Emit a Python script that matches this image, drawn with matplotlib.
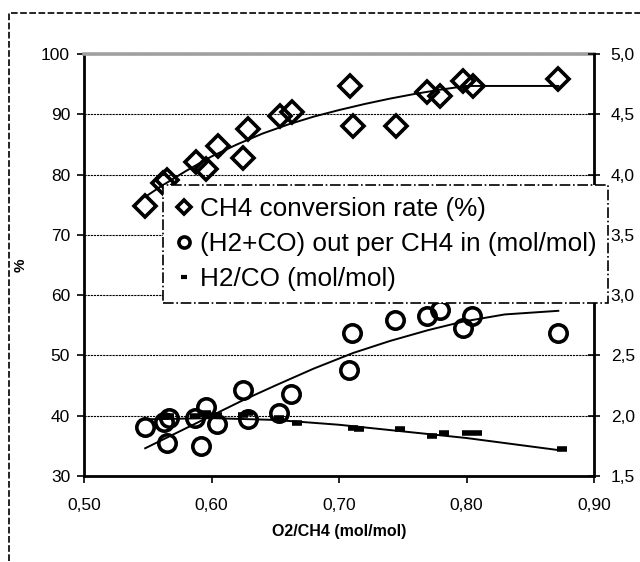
import matplotlib
matplotlib.use("Agg")
import matplotlib.pyplot as plt
from matplotlib.ticker import FuncFormatter
from matplotlib.patches import Rectangle

plt.rcParams['font.family'] = ['Liberation Sans', 'DejaVu Sans']

# ---------------- data ----------------
# CH4 conversion rate (%)  -> left axis
ch4_x = [0.548, 0.562, 0.565, 0.588, 0.596, 0.605, 0.625, 0.629, 0.654, 0.663,
         0.709, 0.711, 0.745, 0.769, 0.779, 0.797, 0.805, 0.872]
ch4_y = [74.8, 78.6, 79.1, 82.1, 80.9, 84.7, 82.7, 87.5, 89.7, 90.4,
         94.7, 88.1, 88.1, 93.7, 93.0, 95.6, 94.7, 95.8]
ch4_trend_x = [0.548, 0.56, 0.58, 0.60, 0.62, 0.64, 0.66, 0.68, 0.70, 0.72,
               0.74, 0.76, 0.78, 0.80, 0.872]
ch4_trend_y = [76.3, 78.0, 80.6, 83.0, 85.0, 86.8, 88.3, 89.6, 90.7, 91.7,
               92.6, 93.4, 94.1, 94.7, 94.7]

# (H2+CO) out per CH4 in (mol/mol) -> right axis
syn_x = [0.548, 0.563, 0.567, 0.565, 0.587, 0.596, 0.604, 0.592, 0.625, 0.629,
         0.653, 0.662, 0.708, 0.710, 0.744, 0.769, 0.779, 0.797, 0.804, 0.872]
syn_y = [1.91, 1.95, 1.98, 1.77, 1.98, 2.07, 1.93, 1.75, 2.21, 1.97,
         2.02, 2.18, 2.38, 2.69, 2.79, 2.83, 2.88, 2.73, 2.83, 2.69]
syn_trend_x = [0.548, 0.60, 0.625, 0.65, 0.68, 0.711, 0.74, 0.77, 0.797, 0.83, 0.872]
syn_trend_y = [1.73, 2.00, 2.13, 2.25, 2.39, 2.52, 2.62, 2.71, 2.78, 2.84, 2.87]

# H2/CO (mol/mol) -> right axis
h2co_x = [0.563, 0.567, 0.587, 0.596, 0.604, 0.625, 0.629, 0.653, 0.667, 0.711,
          0.716, 0.748, 0.773, 0.782, 0.800, 0.808, 0.875]
h2co_y = [1.99, 2.00, 2.00, 2.02, 2.01, 2.01, 2.02, 1.98, 1.94, 1.90,
          1.89, 1.89, 1.83, 1.86, 1.86, 1.86, 1.72]
h2co_trend_x = [0.547, 0.60, 0.65, 0.70, 0.75, 0.80, 0.872]
h2co_trend_y = [1.97, 1.98, 1.965, 1.925, 1.87, 1.815, 1.715]

x_ticks = [0.50, 0.60, 0.70, 0.80, 0.90]
left_ticks = [30, 40, 50, 60, 70, 80, 90, 100]
right_ticks = [1.5, 2.0, 2.5, 3.0, 3.5, 4.0, 4.5, 5.0]

labels = ["CH4 conversion rate (%)",
          "(H2+CO) out per CH4 in (mol/mol)",
          "H2/CO (mol/mol)"]

# ---------------- figure ----------------
W, H = 640, 562
fig = plt.figure(figsize=(W / 100, H / 100), dpi=100)
fig.patch.set_facecolor('white')

L, R, T, B = 84, 594, 54, 476
ax = fig.add_axes([L / W, 1 - B / H, (R - L) / W, (B - T) / H])
ax2 = ax.twinx()

# outer dashed frame (only left and top visible)
fig.patches.append(Rectangle((9 / W, -0.2), 1.5, 1.2 - 13 / H, transform=fig.transFigure,
                             fill=False, edgecolor='black', lw=1.2,
                             linestyle=(0, (4, 1.5)), clip_on=False))

ax.set_xlim(0.50, 0.90)
ax.set_ylim(30, 100)
ax2.set_ylim(1.5, 5.0)
ax.set_xticks(x_ticks)
ax.set_yticks(left_ticks)
ax2.set_yticks(right_ticks)
ax.xaxis.set_major_formatter(FuncFormatter(lambda v, p: f"{v:.2f}".replace('.', ',')))
ax.yaxis.set_major_formatter(FuncFormatter(lambda v, p: f"{v:.0f}"))
ax2.yaxis.set_major_formatter(FuncFormatter(lambda v, p: f"{v:.1f}".replace('.', ',')))

ax.set_axisbelow(True)
ax.yaxis.grid(True, color='black', linestyle=(0, (2, 0.8)), lw=0.8)

for s in ['left', 'bottom']:
    ax.spines[s].set_color('black')
    ax.spines[s].set_linewidth(2.0)
ax.spines['top'].set_color('#a0a0a0')
ax.spines['top'].set_linewidth(2.6)
ax.spines['right'].set_visible(False)
for s in ['left', 'bottom', 'top']:
    ax2.spines[s].set_visible(False)
ax2.spines['right'].set_color('black')
ax2.spines['right'].set_linewidth(2.0)

ax.tick_params(axis='y', direction='out', length=5, width=1.2, pad=5, labelsize=12.5)
ax.tick_params(axis='x', direction='out', length=5, width=1.2, pad=11, labelsize=12.5)
ax2.tick_params(axis='y', direction='inout', length=8, width=1.2, pad=8, labelsize=12.5)

ax.set_xlabel("O2/CH4 (mol/mol)", fontsize=11.5, fontweight='bold', labelpad=8)
ax.set_ylabel("%", fontsize=11, fontweight='bold')
ax.yaxis.set_label_coords((28 - L) / (R - L), 0.5)

# ---------------- series ----------------
h1, = ax.plot(ch4_x, ch4_y, linestyle='none', marker='D', ms=11, mew=2.6,
              mfc='none', mec='black', label=labels[0], zorder=3)
ax.plot(ch4_trend_x, ch4_trend_y, color='black', lw=1.4, zorder=2.8)

h2, = ax2.plot(syn_x, syn_y, linestyle='none', marker='o', ms=12.5, mew=2.6,
               mfc='none', mec='black', label=labels[1], zorder=3)
ax2.plot(syn_trend_x, syn_trend_y, color='black', lw=1.4, zorder=2.8)

h3, = ax2.plot(h2co_x, h2co_y, linestyle='none', marker='_', ms=7, mew=4,
               color='black', label=labels[2], zorder=3)
ax2.plot(h2co_trend_x, h2co_trend_y, color='black', lw=1.4, zorder=2.8)

# ---------------- legend ----------------
leg = fig.legend([h1, h2, h3], labels, loc='upper left',
                 bbox_to_anchor=(163 / W, 1 - 185 / H), bbox_transform=fig.transFigure,
                 fontsize=18.8, frameon=True, fancybox=False, borderpad=0.46,
                 labelspacing=0.42, handlelength=0.72, handletextpad=0.22,
                 borderaxespad=0)
fr = leg.get_frame()
fr.set_edgecolor('black')
fr.set_linestyle('-.')
fr.set_linewidth(1.2)
fr.set_facecolor('white')
fr.set_alpha(1)
lh = leg.legend_handles
lh[0].set_markersize(7); lh[0].set_markeredgewidth(2.6)
lh[1].set_markersize(8); lh[1].set_markeredgewidth(2.6)
lh[2].set_markersize(5); lh[2].set_markeredgewidth(3)

fig.savefig("out.png", dpi=100)
